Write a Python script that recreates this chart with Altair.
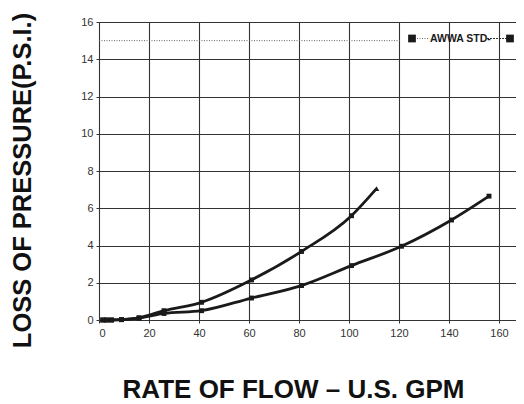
import altair as alt
import pandas as pd

# ---- data ----
upper_x = [1.5, 3, 5, 9, 16, 26, 41, 61, 81, 101, 111]
upper_y = [0, 0, 0, 0.02, 0.12, 0.5, 0.95, 2.15, 3.68, 5.6, 7.05]
lower_x = [1.5, 3, 5, 9, 16, 26, 41, 61, 81, 101, 121, 141, 156]
lower_y = [0, 0, 0, 0.02, 0.1, 0.35, 0.5, 1.18, 1.85, 2.92, 3.96, 5.37, 6.65]
awwa_x = [0, 121]
awwa_y = [15, 15]
x_ticks = [0, 20, 40, 60, 80, 100, 120, 140, 160]
y_ticks = [0, 2, 4, 6, 8, 10, 12, 14, 16]
legend_label = "AWWA STD-"
x_title = "RATE OF FLOW \u2013 U.S. GPM"
y_title = "LOSS OF PRESSURE(P.S.I.)"

FONT = "Liberation Sans"
INK = "#1a1a1a"
GRID = "#333333"

upper = pd.DataFrame({"x": upper_x, "y": upper_y})
lower = pd.DataFrame({"x": lower_x, "y": lower_y})
awwa = pd.DataFrame({"x": awwa_x, "y": awwa_y})

xscale = alt.Scale(domain=[0, 166.8], nice=False, zero=False)
yscale = alt.Scale(domain=[0, 16], nice=False)

xaxis = alt.Axis(
    values=x_ticks, grid=True, gridColor=GRID, gridWidth=1.1, gridOpacity=1,
    domain=False, ticks=True, tickSize=3, tickColor=GRID,
    labelFont=FONT, labelFontSize=11, labelColor="#333", labelPadding=4,
    title=x_title, titleFont=FONT, titleFontSize=26, titleFontWeight="bold",
    titleColor="#111", titleX=194, titleY=77, titleAlign="center",
    titleBaseline="alphabetic",
)
yaxis = alt.Axis(
    values=y_ticks, grid=True, gridColor=GRID, gridWidth=1.1, gridOpacity=1,
    domain=False, ticks=True, tickSize=3, tickColor=GRID,
    labelFont=FONT, labelFontSize=11, labelColor="#333", labelPadding=3,
    title=y_title, titleFont=FONT, titleFontSize=25.5, titleFontWeight="bold",
    titleColor="#111", titleAngle=270, titleX=-77, titleY=158,
    titleAlign="center", titleBaseline="middle",
)

def enc(ch):
    return ch.encode(
        x=alt.X("x:Q", scale=xscale, axis=xaxis),
        y=alt.Y("y:Q", scale=yscale, axis=yaxis),
    )

awwa_line = enc(alt.Chart(awwa).mark_line(color="#555", strokeWidth=0.9, strokeDash=[1, 1.5]))
upper_line = enc(alt.Chart(upper).mark_line(color=INK, strokeWidth=2.8, interpolate="monotone"))
lower_line = enc(alt.Chart(lower).mark_line(color=INK, strokeWidth=2.8, interpolate="monotone"))
upper_pts = enc(alt.Chart(upper.iloc[:-1]).mark_square(color=INK, size=24, opacity=1))
upper_end = enc(alt.Chart(upper.iloc[-1:]).mark_point(shape="triangle-up", filled=True, color=INK, size=30, opacity=1))
lower_pts = enc(alt.Chart(lower).mark_square(color=INK, size=24, opacity=1))

# legend decoration (top right)
leg = pd.DataFrame({"t": [legend_label]})
leg_sq1 = alt.Chart(leg).mark_square(color=INK, size=60, opacity=1).encode(x=alt.value(313), y=alt.value(16.5))
leg_dots = alt.Chart(leg).mark_rule(color="#555", strokeWidth=0.9, strokeDash=[1, 1.5]).encode(
    x=alt.value(318), x2=alt.value(330), y=alt.value(16.5))
leg_text = alt.Chart(leg).mark_text(font=FONT, fontSize=10.5, fontWeight="bold", color=INK,
                                    align="left", baseline="middle").encode(
    x=alt.value(331), y=alt.value(16.5), text="t:N")
leg_dash = alt.Chart(leg).mark_rule(color=INK, strokeWidth=0.9, strokeDash=[2, 1]).encode(
    x=alt.value(388), x2=alt.value(408), y=alt.value(16.5))
leg_sq2 = alt.Chart(leg).mark_square(color=INK, size=60, opacity=1).encode(x=alt.value(411), y=alt.value(16.5))

chart = alt.layer(
    awwa_line, lower_line, upper_line, lower_pts, upper_pts, upper_end,
    leg_dots, leg_dash, leg_sq1, leg_sq2, leg_text,
).properties(
    width=417, height=298,
    autosize=alt.AutoSizeParams(type="none"),
    padding={"left": 91, "top": 14, "right": 0, "bottom": 84},
).configure_view(stroke="#222", strokeWidth=1.2).configure(background="white")

chart.save("out.html", embed_options={"renderer": "svg", "actions": False})
